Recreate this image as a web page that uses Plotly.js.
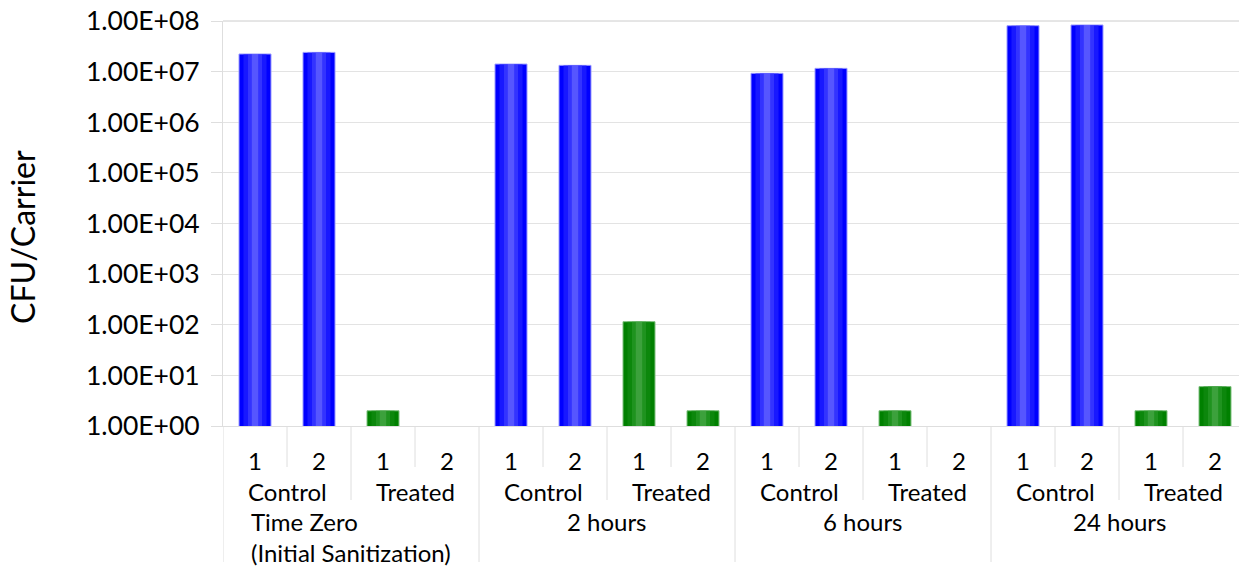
<!DOCTYPE html>
<html>
<head>
<meta charset="utf-8">
<script src="https://cdn.plot.ly/plotly-3.0.1.min.js"></script>
<style>
html,body{margin:0;padding:0;overflow:hidden;background:#fff;}
#chart{width:1239px;height:567px;}
</style>
</head>
<body>
<div id="chart"></div>
<script>
// ---- data ----
const groups = ["Time Zero<br>(Initial Sanitization)", "2 hours", "6 hours", "24 hours"];
const conditions = ["Control", "Treated"];
const replicates = ["1", "2"];
// values per group, replicate order 1,2
const controlValues = [2.23e7, 2.4e7, 1.41e7, 1.33e7, 9.25e6, 1.16e7, 8.07e7, 8.34e7];
const treatedValues = [2, null, 115, 2, 2, null, 2, 6];
const yTickVals = [1, 10, 100, 1000, 1e4, 1e5, 1e6, 1e7, 1e8];
const yTickLabels = ["1.00E+00","1.00E+01","1.00E+02","1.00E+03","1.00E+04","1.00E+05","1.00E+06","1.00E+07","1.00E+08"];
const yTitle = "CFU/Carrier";

// ---- positions ----
const nRep = replicates.length, nCond = conditions.length;
const perGroup = nRep * nCond;
const ctrlX = [], trtX = [];
groups.forEach((g, gi) => {
  replicates.forEach((r, ri) => {
    ctrlX.push(gi * perGroup + ri);
    trtX.push(gi * perGroup + nRep + ri);
  });
});

const FONT = "Lato, 'Noto Sans', sans-serif";
const traces = [];
function addBars(xs, ys, base, lineCol, layers) {
  traces.push({type: 'bar', x: xs, y: ys, width: 0.5, marker: {color: base, line: {color: lineCol, width: 1}}, hoverinfo: 'y', showlegend: false});
  layers.forEach(l => {
    traces.push({type: 'bar', x: xs, y: ys, width: l.w, marker: {color: l.c, line: {width: 0}}, hoverinfo: 'skip', showlegend: false});
  });
}
addBars(ctrlX, controlValues, '#0000ff', '#9a9aff', [
  {w: 0.36, c: 'rgba(40,40,255,0.6)'},
  {w: 0.22, c: 'rgba(70,70,255,0.6)'},
  {w: 0.10, c: 'rgba(110,110,255,0.6)'}
]);
addBars(trtX, treatedValues, '#008000', '#7fc07f', [
  {w: 0.36, c: 'rgba(20,140,20,0.6)'},
  {w: 0.22, c: 'rgba(45,155,45,0.6)'},
  {w: 0.10, c: 'rgba(80,170,80,0.6)'}
]);

// ---- annotations & dividers ----
const plotTop = 21, plotBot = 426, plotH = plotBot - plotTop;
const py = p => (plotBot - p) / plotH;  // pixel -> paper
const annotations = [];
const shapes = [];
const lineCol = '#dedede';
const total = groups.length * perGroup;
for (let i = 0; i < total; i++) {
  annotations.push({xref: 'x', yref: 'paper', x: i, y: py(460), text: replicates[i % nRep], showarrow: false, xanchor: 'center', yanchor: 'middle', font: {family: FONT, size: 24, color: '#000'}});
}
groups.forEach((g, gi) => {
  conditions.forEach((c, ci) => {
    const cx = gi * perGroup + ci * nRep + (nRep - 1) / 2;
    annotations.push({xref: 'x', yref: 'paper', x: cx, y: py(491), text: c, showarrow: false, xanchor: 'center', yanchor: 'middle', font: {family: FONT, size: 24, color: '#000'}});
    // replicate divider
    shapes.push({type: 'line', xref: 'x', yref: 'paper', x0: cx, x1: cx, y0: py(427), y1: py(467), line: {color: lineCol, width: 1}});
  });
  // condition divider
  const cd = gi * perGroup + nRep - 0.5;
  shapes.push({type: 'line', xref: 'x', yref: 'paper', x0: cd, x1: cd, y0: py(427), y1: py(500), line: {color: lineCol, width: 1}});
  // group divider
  const gd = gi * perGroup - 0.5;
  shapes.push({type: 'line', xref: 'x', yref: 'paper', x0: gd, x1: gd, y0: py(427), y1: py(562), line: {color: lineCol, width: 1}});
  const gx = gi * perGroup + (perGroup - 1) / 2;
  annotations.push({xref: 'x', yref: 'paper', x: gx, y: py(505), text: g, showarrow: false, xanchor: 'center', yanchor: 'top', align: 'left', font: {family: FONT, size: 24, color: '#000'}});
});
// y axis title
annotations.push({xref: 'paper', yref: 'paper', x: 0, xshift: -201, y: py(237), text: yTitle, textangle: -90, showarrow: false, xanchor: 'center', yanchor: 'middle', font: {family: FONT, size: 32, color: '#000'}});

const layout = {
  width: 1239, height: 567,
  margin: {l: 223, r: 0, t: plotTop, b: 567 - plotBot},
  paper_bgcolor: '#fff', plot_bgcolor: '#fff',
  barmode: 'overlay',
  showlegend: false,
  xaxis: {type: 'linear', range: [-0.5, 15.375], showticklabels: false, showgrid: false, zeroline: false, ticks: '', showline: true, linecolor: lineCol, linewidth: 1, fixedrange: true},
  yaxis: {type: 'log', range: [0, 8], tickvals: yTickVals, ticktext: yTickLabels, tickfont: {family: FONT, size: 26.5, color: '#000'},
          ticks: 'outside', ticklen: 11, tickcolor: lineCol, tickwidth: 1, ticklabelstandoff: 6,
          showgrid: true, gridcolor: '#e3e3e3', gridwidth: 1, showline: true, linecolor: lineCol, linewidth: 1, zeroline: false, fixedrange: true},
  annotations: annotations,
  shapes: shapes.concat([{type: 'line', xref: 'paper', yref: 'paper', x0: 0, x1: 1, y0: 1, y1: 1, line: {color: '#cccccc', width: 1}}])
};
Plotly.newPlot('chart', traces, layout, {displayModeBar: false, staticPlot: true});
</script>
</body>
</html>
